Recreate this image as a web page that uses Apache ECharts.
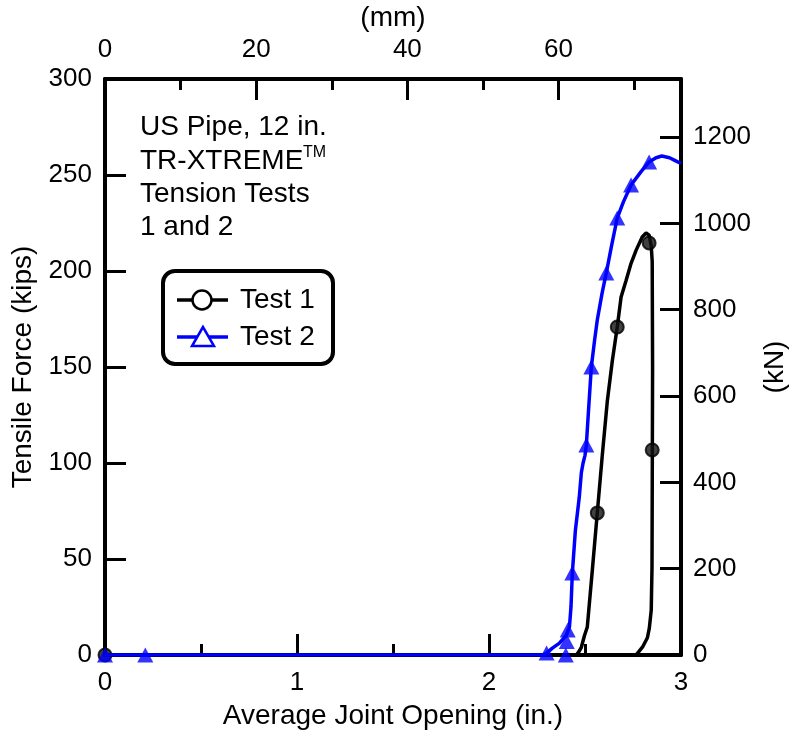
<!DOCTYPE html>
<html>
<head>
<meta charset="utf-8">
<script src="https://cdn.jsdelivr.net/npm/echarts@6/dist/echarts.min.js"></script>
<style>
html,body{margin:0;padding:0;background:#fff;}
#chart{width:793px;height:733px;}
</style>
</head>
<body>
<div id="chart"></div>
<script>
// Test 1 : average joint opening (in.) / tensile force (kips)
var test1Line = [
	[0,0],[2.455,0],[2.47,2],[2.481,4],[2.497,10],[2.512,14.6],[2.538,44],[2.564,74],
	[2.59,104],[2.616,132],[2.642,153],[2.668,170.8],[2.688,186.5],[2.714,195],[2.74,204],
	[2.767,211],[2.798,217.7],[2.818,219.8],[2.834,218.7],[2.845,213],[2.85,205],[2.852,150],
	[2.85,80],[2.849,45.8],[2.845,23.4],[2.835,14],[2.825,9],[2.80,4.2],[2.77,0.5],[2.76,0]
];
var test1Marks = [[0,0],[2.564,74],[2.668,170.8],[2.834,214.6],[2.85,106.8]];

// Test 2
var test2Line = [
	[0,0],[2.28,0],[2.30,1],[2.33,3.6],[2.367,6.2],[2.403,10.4],[2.419,14.6],[2.427,25],
	[2.434,42.7],[2.45,65],[2.47,82],[2.481,95],[2.49,100],[2.50,104],[2.507,109.4],[2.52,130],
	[2.533,150],[2.55,164],[2.564,174.5],[2.59,189],[2.611,199],[2.64,214],[2.668,227.6],
	[2.70,236],[2.74,244.8],[2.79,251.5],[2.834,256.8],[2.87,259],[2.90,259.9],[2.94,259],
	[2.97,257.5],[3.0,256]
];
var test2Marks = [[0,0],[0.21,0],[2.30,1],[2.40,0],[2.405,7],[2.41,13],[2.434,42.7],
	[2.507,109.4],[2.533,150],[2.611,199],[2.668,227.6],[2.74,244.8],[2.834,256.8]];

var mmTicks = [0,20,40,60];
var knTicks = [0,200,400,600,800,1000,1200];

var FONT = '"Liberation Sans", Arial, sans-serif';
var BLUE = '#0000ff';

var chart = echarts.init(document.getElementById('chart'));

var axisLn = {color:'#000', width:4};
var tickLn = {color:'#000', width:3};

chart.setOption({
	animation:false,
	backgroundColor:'#fff',
	grid:{left:105, right:112, top:79, bottom:78, containLabel:false,
		outerBounds:{left:-200, right:-200, top:-200, bottom:-200}},
	xAxis:[{
		type:'value', position:'bottom', min:0, max:3, interval:1,
		name:'Average Joint Opening (in.)', nameLocation:'middle', nameGap:47,
		nameTextStyle:{fontFamily:FONT, fontSize:28, color:'#000'},
		axisLine:{onZero:false, lineStyle:axisLn},
		axisTick:{inside:true, length:21, lineStyle:tickLn},
		minorTick:{show:true, splitNumber:2, length:11, lineStyle:tickLn},
		axisLabel:{fontFamily:FONT, fontSize:26, color:'#000', margin:15},
		splitLine:{show:false}
	},{
		type:'value', position:'top', min:0, max:76.2, interval:20,
		name:'(mm)', nameLocation:'middle', nameGap:46,
		nameTextStyle:{fontFamily:FONT, fontSize:28, color:'#000'},
		axisLine:{onZero:false, lineStyle:axisLn},
		axisTick:{show:true, inside:true, length:21, lineStyle:tickLn},
		minorTick:{show:true, splitNumber:2, length:11, lineStyle:tickLn},
		axisLabel:{fontFamily:FONT, fontSize:26, color:'#000', margin:16, customValues:mmTicks},
		splitLine:{show:false}
	}],
	yAxis:[{
		type:'value', position:'left', min:0, max:300, interval:50,
		name:'Tensile Force (kips)', nameLocation:'middle', nameGap:60,
		nameTextStyle:{fontFamily:FONT, fontSize:28, color:'#000'},
		axisLine:{onZero:false, lineStyle:axisLn},
		axisTick:{inside:true, length:21, lineStyle:tickLn},
		axisLabel:{fontFamily:FONT, fontSize:26, color:'#000', margin:13},
		splitLine:{show:false}
	},{
		type:'value', position:'right', min:0, max:1334.5,
		name:'(kN)', nameLocation:'middle', nameGap:80, nameRotate:90,
		nameTextStyle:{fontFamily:FONT, fontSize:28, color:'#000'},
		axisLine:{onZero:false, lineStyle:axisLn},
		axisTick:{inside:true, length:21, customValues:knTicks, lineStyle:tickLn},
		axisLabel:{fontFamily:FONT, fontSize:26, color:'#000', margin:12, customValues:knTicks,
			formatter:function(v){ return String(v); }},
		splitLine:{show:false}
	}],
	series:[{
		name:'Test 1', type:'line', data:test1Line, showSymbol:false,
		lineStyle:{color:'#000', width:3.5}, z:3
	},{
		name:'Test 1 marks', type:'scatter', data:test1Marks, symbol:'circle', symbolSize:13,
		itemStyle:{color:'#111', borderColor:'#000', borderWidth:2}, z:4
	},{
		name:'Test 2', type:'line', data:test2Line, showSymbol:false,
		lineStyle:{color:BLUE, width:3.5}, z:5
	},{
		name:'Test 2 marks', type:'scatter', data:test2Marks, symbol:'triangle', symbolSize:[16,15],
		itemStyle:{color:BLUE}, z:6
	}],
	graphic:[
		{type:'text', x:140, y:127, style:{text:'US Pipe, 12 in.', font:'28px '+FONT, fill:'#000', verticalAlign:'middle'}},
		{type:'text', x:140, y:161, style:{text:'TR-XTREME', font:'28px '+FONT, fill:'#000', verticalAlign:'middle'}},
		{type:'text', x:303, y:153, style:{text:'TM', font:'16px '+FONT, fill:'#000', verticalAlign:'middle'}},
		{type:'text', x:140, y:194, style:{text:'Tension Tests', font:'28px '+FONT, fill:'#000', verticalAlign:'middle'}},
		{type:'text', x:140, y:227, style:{text:'1 and 2', font:'28px '+FONT, fill:'#000', verticalAlign:'middle'}},
		{type:'rect', shape:{x:163, y:271, width:170, height:93, r:12},
			style:{fill:'#fff', stroke:'#000', lineWidth:4}, z:10},
		{type:'line', shape:{x1:177, y1:300, x2:228, y2:300}, style:{stroke:'#000', lineWidth:3.5}, z:11},
		{type:'circle', shape:{cx:202, cy:300, r:9.5}, style:{fill:'#fff', stroke:'#000', lineWidth:2.5}, z:12},
		{type:'text', x:240, y:300, style:{text:'Test 1', font:'28px '+FONT, fill:'#000', verticalAlign:'middle'}, z:12},
		{type:'line', shape:{x1:177, y1:337, x2:228, y2:337}, style:{stroke:BLUE, lineWidth:3.5}, z:11},
		{type:'polygon', shape:{points:[[203,327],[192,346],[214,346]]}, style:{fill:'#fff', stroke:BLUE, lineWidth:2.5}, z:12},
		{type:'text', x:240, y:337, style:{text:'Test 2', font:'28px '+FONT, fill:'#000', verticalAlign:'middle'}, z:12}
	]
});
</script>
</body>
</html>
